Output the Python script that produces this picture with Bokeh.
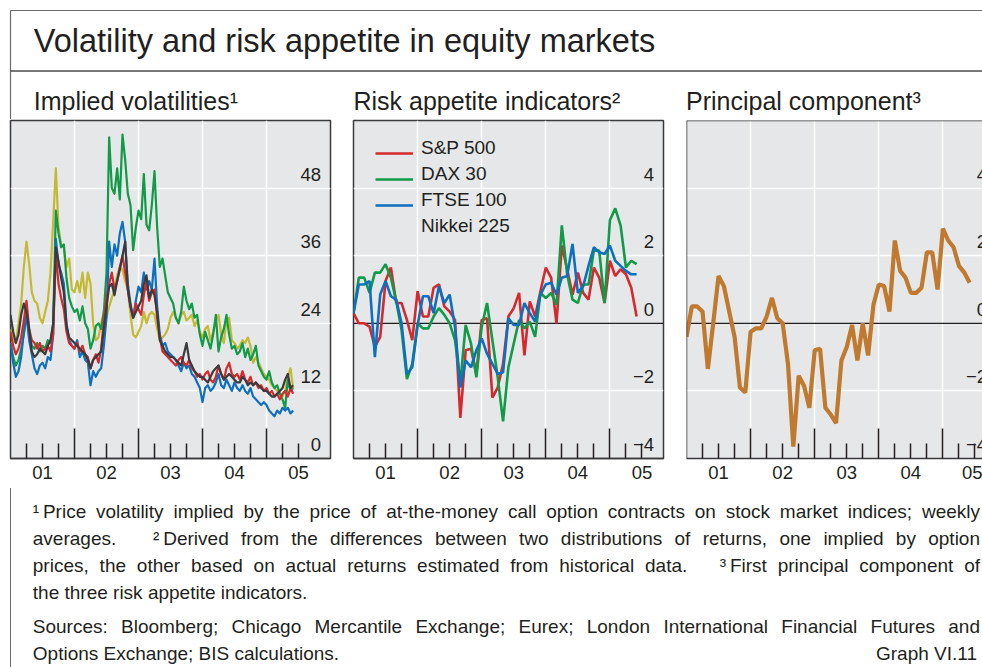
from bokeh.plotting import figure
from bokeh.models import (Range1d, FixedTicker, LinearAxis, Span, Label, LabelSet,
                          ColumnDataSource, Legend, LegendItem, Div)
from bokeh.core.properties import value
from bokeh.layouts import column, row
from bokeh.embed import file_html
from bokeh.resources import INLINE

# ---------------- data ----------------
year_bounds = [2002, 2003, 2004, 2005]
quarter_ticks = [2001.25, 2001.5, 2001.75, 2002.25, 2002.5, 2002.75, 2003.25, 2003.5, 2003.75,
                 2004.25, 2004.5, 2004.75, 2005.25, 2005.5]
year_mids = [2001.5, 2002.5, 2003.5, 2004.5, 2005.5]
year_labels = ["01", "02", "03", "04", "05"]

# implied volatilities, half-monthly observations from Jan 2001
vol_dates = [2001 + k / 24 for k in range(107)]
vol_nikkei = [23.0, 21.0, 20.5, 24.0, 27.5, 34.0, 38.5, 34.5, 29.5, 28.0,
              27.5, 25.0, 24.0, 26.0, 28.0, 33.0, 42.0, 51.5, 41.0, 38.0,
              37.5, 34.0, 35.5, 30.0, 29.5, 31.5, 29.5, 33.0, 28.5, 33.0,
              31.0, 24.0, 21.0, 21.5, 24.0, 26.0, 25.0, 27.0, 28.5, 30.0,
              32.5, 34.0, 33.5, 31.5, 30.0, 25.5, 22.0, 21.5, 22.5, 23.5,
              26.0, 24.0, 25.5, 26.0, 25.5, 23.0, 21.0, 21.5, 22.0, 23.0,
              25.0, 26.0, 25.0, 24.0, 25.5, 26.0, 24.5, 25.0, 25.5, 23.5,
              24.5, 22.5, 21.5, 23.0, 23.5, 21.0, 22.5, 24.5, 25.5, 22.0,
              20.5, 24.5, 25.0, 21.0, 20.5, 19.5, 20.0, 21.0, 20.5, 21.5,
              20.0, 17.0, 18.0, 17.0, 16.0, 15.0, 14.5, 14.0, 13.0, 12.5,
              12.0, 11.5, 11.0, 12.0, 14.5, 16.0, 12.5]
vol_dax = [20.5, 18.0, 16.5, 17.5, 19.5, 22.0, 25.5, 22.0, 20.0, 19.5,
           20.5, 19.0, 20.0, 19.5, 21.0, 20.5, 24.0, 44.0, 40.0, 37.5,
           38.0, 32.0, 28.5, 27.0, 26.0, 26.5, 24.5, 27.0, 24.0, 23.0,
           19.5, 21.0, 23.5, 24.0, 23.0, 26.0, 33.0, 57.0, 48.0, 47.0,
           51.5, 46.0, 57.5, 53.0, 47.0, 45.0, 37.0, 41.0, 44.0, 42.5,
           50.5, 41.5, 40.5, 45.0, 51.0, 41.0, 34.0, 35.5, 32.5, 29.5,
           28.5, 27.5, 25.0, 24.0, 26.0, 30.5, 28.0, 26.5, 27.5, 25.0,
           25.5, 22.0, 20.0, 22.5, 21.0, 19.5, 22.0, 25.5, 19.0, 21.5,
           23.0, 25.5, 22.0, 19.5, 20.0, 18.5, 19.0, 20.5, 18.0, 19.5,
           17.5, 18.5, 20.0, 16.5, 15.5, 14.5, 14.0, 15.5, 13.5, 12.5,
           13.0, 11.5, 10.5, 9.0, 14.0, 12.0, 12.5]
vol_ftse = [20.5, 17.0, 14.5, 15.5, 18.0, 22.5, 25.5, 21.0, 18.5, 16.0,
            15.0, 16.5, 17.0, 16.0, 18.0, 17.5, 22.0, 39.0, 34.5, 33.0,
            31.0, 24.0, 21.0, 20.0, 19.5, 21.0, 18.0, 19.0, 17.5, 17.0,
            13.0, 15.5, 14.5, 15.5, 16.0, 20.0, 25.0, 38.5, 34.0, 38.0,
            36.0, 40.0, 42.0, 38.5, 31.0, 27.5, 25.0, 28.0, 30.5, 29.5,
            33.0, 30.0, 31.5, 30.0, 35.5, 27.0, 22.0, 20.0, 20.5, 19.0,
            18.5, 18.0, 17.5, 16.5, 15.5, 17.0, 16.0, 16.5, 15.0, 14.5,
            13.5, 12.5, 10.0, 12.5, 13.0, 12.0, 12.5, 13.5, 15.0, 13.0,
            12.5, 14.0, 13.0, 12.0, 13.5, 12.5, 12.0, 13.0, 12.0, 11.5,
            12.5, 11.0, 10.5, 10.0, 9.5, 10.0, 9.5, 8.5, 8.0, 7.5,
            8.5, 8.0, 9.0, 8.5, 9.0, 8.0, 8.5]
vol_sp500 = [22.5, 20.0, 18.5, 19.5, 21.5, 24.5, 28.0, 23.0, 21.0, 20.5,
             19.5, 20.5, 19.0, 19.5, 20.0, 19.0, 22.0, 36.5, 31.0, 28.5,
             26.5, 22.5, 20.5, 20.0, 19.5, 20.5, 19.0, 20.0, 18.5, 18.0,
             16.0, 17.5, 18.5, 17.0, 19.5, 24.5, 28.5, 31.0, 33.0, 30.0,
             31.5, 34.0, 36.0, 33.0, 30.0, 27.0, 25.0, 27.5, 26.5, 25.5,
             29.0, 31.5, 28.0, 29.5, 30.0, 25.0, 21.5, 19.0, 18.5, 18.0,
             17.5, 17.0, 16.5, 17.5, 18.0, 17.0, 16.5, 17.5, 16.0, 15.5,
             14.5, 15.0, 14.0, 15.0, 15.5, 14.0, 13.5, 14.5, 16.5, 15.0,
             14.0, 16.0, 17.0, 15.0, 14.5, 15.0, 14.0, 15.5, 14.0, 13.5,
             14.5, 13.0, 13.5, 12.5, 13.0, 12.0, 12.5, 11.5, 12.0, 11.0,
             11.5, 10.5, 11.5, 12.0, 11.0, 12.5, 11.5]
vol_other = [25.5, 22.5, 20.5, 22.0, 25.5, 27.5, 26.0, 23.0, 19.0, 18.0,
             18.5, 19.5, 19.0, 18.5, 20.0, 21.0, 24.0, 37.5, 35.0, 32.0,
             29.5, 23.5, 21.5, 21.0, 20.5, 20.0, 19.5, 19.0, 18.5, 17.5,
             16.0, 17.5, 18.0, 18.5, 19.0, 23.0, 27.0, 30.5, 31.0, 29.0,
             31.5, 33.5, 36.0, 38.5, 30.0, 27.0, 25.0, 26.0, 27.0, 28.0,
             31.0, 32.5, 28.5, 30.0, 29.0, 26.0, 21.0, 20.0, 19.0, 18.5,
             18.0, 18.0, 17.5, 17.0, 16.5, 18.5, 20.5, 17.5, 16.5, 15.5,
             15.0, 14.5, 14.5, 14.0, 13.5, 14.5, 15.5, 16.0, 16.5, 15.0,
             14.0, 14.5, 15.0, 14.5, 14.0, 13.5, 13.5, 14.5, 14.0, 13.0,
             13.5, 13.0, 13.5, 13.0, 12.5, 12.0, 12.0, 11.5, 11.0, 11.0,
             11.5, 12.0, 12.5, 14.0, 15.0, 12.5, 13.0]

# risk appetite indicators and principal component, monthly from Jan 2001
ra_dates = [2001 + m / 12 for m in range(54)]
ra_sp500 = [0.3, 0.0, 0.0, -0.1, -0.7, -0.4, 1.25, 1.65, 0.6, 0.6,
            0.1, -0.5, 0.95, 0.2, 0.2, 1.05, 1.15, 0.5, 0.35, 0.1,
            -2.8, -0.8, -0.75, -1.5, 0.1, 0.15, -2.2, -1.9, -1.2, 0.2,
            0.45, 0.9, -0.95, 0.65, 0.2, 0.95, 1.65, 1.35, 0.0, 2.3,
            1.6, 0.85, 1.5, 0.9, 0.7, 1.65, 1.35, 0.6, 1.85, 1.4,
            1.6, 1.45, 1.05, 0.2]
ra_dax = [0.3, 1.35, 1.35, 0.9, 1.5, 1.5, 1.75, 1.35, 0.65, -0.2,
          -1.65, -1.2, 0.0, -0.15, -0.15, 0.2, 0.45, 0.25, 0.0, -0.5,
          -1.75, -0.05, -0.6, -1.6, -0.1, 0.6, -0.5, -1.6, -2.9, -1.3,
          -0.6, 0.1, -0.15, 0.05, -0.4, 0.9, 0.75, 0.9, 0.55, 2.9,
          1.45, 0.7, 0.6, 1.15, 1.15, 2.15, 2.15, 0.6, 3.05, 3.4,
          2.9, 1.65, 1.85, 1.75]
ra_ftse = [0.3, 1.15, 1.15, 1.25, -1.0, 0.85, 1.25, 0.8, 0.7, 0.0,
           -1.5, -1.3, -0.05, 0.8, 0.8, 0.3, 1.1, 0.6, 0.85, -0.1,
           -1.9, -1.1, -1.3, -0.8, -0.45, -0.9, -1.2, -1.5, -1.45, 0.15,
           -0.05, -0.05, 0.6, 0.3, 0.05, 0.85, 1.15, 1.2, 0.85, 1.35,
           1.4, 2.35, 0.9, 1.1, 1.7, 2.25, 2.1, 2.05, 2.3, 1.85,
           1.7, 1.55, 1.45, 1.45]
pc_first = [-0.4, 0.5, 0.5, 0.35, -1.35, 0.0, 1.4, 1.1, 0.35, -0.4,
            -1.9, -2.05, -0.25, -0.15, -0.15, 0.2, 0.75, 0.15, 0.0, -1.2,
            -3.65, -1.55, -1.85, -2.5, -0.8, -0.75, -2.5, -2.7, -2.95, -1.1,
            -0.7, -0.05, -1.1, 0.0, -0.95, 0.55, 1.15, 1.1, 0.35, 2.45,
            1.55, 1.35, 0.9, 0.9, 1.05, 2.1, 2.1, 1.0, 2.8, 2.45,
            2.25, 1.7, 1.5, 1.2]

series_names = ["S&P 500", "DAX 30", "FTSE 100", "Nikkei 225"]
vol_ticks = [0, 12, 24, 36, 48]
vol_tick_text = ["0", "12", "24", "36", "48"]
ra_ticks = [-4, -2, 0, 2, 4]
ra_tick_text = ["\u22124", "\u22122", "0", "2", "4"]

# ---------------- style ----------------
FONT = "Liberation Sans"
INK = "#231f20"
BG = "#e6e7e8"
FRAME = "#3a3a3a"
BOX = "#6b6b6b"
RED = "#d42a2f"
GREEN = "#119a48"
BLUE = "#0d6fbe"
YELLOW = "#c5b934"
BLACK = "#3b3b3d"
ORANGE = "#c07a30"

PX_PER_YEAR = 64.1


def make_panel(x_end, y0, y1, fw, left, right, gridy, tick_vals, tick_txt, label_x, outline=True):
    p = figure(frame_width=fw, frame_height=338, x_range=Range1d(2001, x_end),
               y_range=Range1d(y0, y1), output_backend="svg", toolbar_location=None,
               y_axis_location=None, min_border_left=left, min_border_right=right,
               min_border_top=1, min_border_bottom=30)
    p.background_fill_color = BG
    p.border_fill_color = "white"
    p.outline_line_color = FRAME if outline else None
    p.outline_line_width = 1.5

    ax = p.xaxis[0]
    ax.ticker = FixedTicker(ticks=year_bounds, minor_ticks=quarter_ticks)
    ax.major_tick_in = 30
    ax.major_tick_out = 0
    ax.minor_tick_in = 15
    ax.minor_tick_out = 0
    ax.major_tick_line_color = INK
    ax.major_tick_line_width = 1.5
    ax.minor_tick_line_color = INK
    ax.minor_tick_line_width = 1.5
    ax.axis_line_color = FRAME
    ax.axis_line_width = 1.5
    ax.major_label_overrides = {t: "" for t in year_bounds}
    ax.major_label_text_font_size = "1px"
    ax.major_label_standoff = 0

    lab = LinearAxis(ticker=FixedTicker(ticks=year_mids),
                     major_label_overrides=dict(zip(year_mids, year_labels)),
                     major_tick_in=0, major_tick_out=0, minor_tick_in=0, minor_tick_out=0,
                     axis_line_color=None, major_label_standoff=7,
                     major_label_text_font=FONT, major_label_text_font_size="18.5px",
                     major_label_text_color=INK)
    p.add_layout(lab, "below")

    p.xgrid.ticker = FixedTicker(ticks=year_bounds)
    p.xgrid.grid_line_color = "white"
    p.xgrid.grid_line_width = 1.5
    p.ygrid.ticker = FixedTicker(ticks=gridy)
    p.ygrid.grid_line_color = "white"
    p.ygrid.grid_line_width = 1.5

    src = ColumnDataSource(dict(x=[label_x] * len(tick_vals), y=tick_vals, text=tick_txt))
    p.add_layout(LabelSet(x="x", y="y", text="text", source=src, x_offset=-9.5, y_offset=7.5,
                          text_align="right", text_baseline="alphabetic", text_font=value(FONT),
                          text_font_size=value("18.5px"), text_color=INK))
    return p


# ---------------- header ----------------
HDR_H = 119
hdr = figure(width=982, height=HDR_H, x_range=Range1d(0, 982), y_range=Range1d(HDR_H, 0),
             output_backend="svg", toolbar_location=None, min_border=0,
             x_axis_location=None, y_axis_location=None, outline_line_color=None)
hdr.grid.visible = False
hdr.segment(x0=[10, 10, 10], y0=[10, 10, 70.5], x1=[982, 10, 982], y1=[10, HDR_H, 70.5],
            line_color=[BOX, BOX, "#4a4a4a"], line_width=[1.2, 1.2, 1.6])
hdr.add_layout(Label(x=33.3, y=40.6, text="Volatility and risk appetite in equity markets",
                     text_font=FONT, text_font_size="32.5px", text_color=INK,
                     text_baseline="middle"))
for sx, st in [(33.3, "Implied volatilities\u00b9"), (353, "Risk appetite indicators\u00b2"),
               (685.5, "Principal component\u00b3")]:
    hdr.add_layout(Label(x=sx, y=100.6, text=st, text_font=FONT, text_font_size="25px",
                         text_color=INK, text_baseline="middle"))

# ---------------- panel 1 ----------------
p1 = make_panel(2006, 0, 60, 320, 10, 11, [12, 24, 36, 48], vol_ticks, vol_tick_text, 2006)
for vals, col in [(vol_nikkei, YELLOW), (vol_dax, GREEN), (vol_ftse, BLUE),
                  (vol_sp500, RED), (vol_other, BLACK)]:
    p1.line(vol_dates, vals, line_color=col, line_width=2.2, line_join="round")

# ---------------- panel 2 ----------------
x2_end = 2001 + 310 / PX_PER_YEAR
p2 = make_panel(x2_end, -4, 6, 310, 12, 11, [-2, 2, 4], ra_ticks, ra_tick_text, x2_end)
p2.add_layout(Span(location=0, dimension="width", line_color=INK, line_width=1.3, level="underlay"))
r_sp = p2.line(ra_dates, ra_sp500, line_color=RED, line_width=2.6)
r_dax = p2.line(ra_dates, ra_dax, line_color=GREEN, line_width=2.6)
r_ftse = p2.line(ra_dates, ra_ftse, line_color=BLUE, line_width=2.6)
r_nik = p2.line([], [], line_color=YELLOW, line_width=2.6)
leg_renderers = [r_sp, r_dax, r_ftse, r_nik]
common = dict(orientation="vertical", glyph_height=26, label_height=26, spacing=0, padding=0,
              margin=0, background_fill_alpha=0, border_line_alpha=0, label_text_font=FONT,
              label_text_font_size="19px", label_text_color=INK)
# legend keys (line samples only)
leg_keys = Legend(items=[LegendItem(label=" ", renderers=[r]) for r in leg_renderers],
                  location=(22, 214.5), glyph_width=38, label_standoff=0, label_width=0, **common)
# legend labels (text sits slightly above the line samples)
leg_text = Legend(items=[LegendItem(label=n, renderers=[r]) for n, r in zip(series_names, leg_renderers)],
                  location=(68, 219.5), glyph_width=0, label_standoff=0, **common)
p2.add_layout(leg_keys)
p2.add_layout(leg_text)

# ---------------- panel 3 ----------------
x3_end = 2001 + 296 / PX_PER_YEAR
p3 = make_panel(x3_end, -4, 6, 296, 12, 0, [-2, 2, 4], ra_ticks, ra_tick_text,
                2001 + 310 / PX_PER_YEAR, outline=False)
p3.add_layout(Span(location=0, dimension="width", line_color=INK, line_width=1.3, level="underlay"))
p3.add_layout(Span(location=6, dimension="width", line_color=FRAME, line_width=1.5))
p3.add_layout(Span(location=2001, dimension="height", line_color=FRAME, line_width=1.5))
p3.line(ra_dates, pc_first, line_color=ORANGE, line_width=4.2)

# ---------------- footer ----------------
FOOT_H = 179
jl = "text-align:justify;text-align-last:justify;"
foot_html = (
    "<div style=\"margin-left:10px;width:972px;border-left:1.2px solid " + BOX + ";height:" + str(FOOT_H) + "px;"
    "box-sizing:border-box;padding:10.2px 2px 0 21.8px;font-family:'Liberation Sans',Arial,sans-serif;"
    "font-size:19px;line-height:27px;color:" + INK + ";text-align:left;\">"
    "<div style=\"" + jl + "\">\u00b9\u2009Price volatility implied by the price of at-the-money call option "
    "contracts on stock market indices; weekly</div>"
    "<div style=\"" + jl + "\">averages.&nbsp;&nbsp; \u00b2\u2009Derived from the differences between two "
    "distributions of returns, one implied by option</div>"
    "<div style=\"" + jl + "\">prices, the other based on actual returns estimated from historical "
    "data.&nbsp;&nbsp; \u00b3\u2009First principal component of</div>"
    "<div>the three risk appetite indicators.</div>"
    "<div style=\"margin-top:7px;" + jl + "\">Sources: Bloomberg; Chicago Mercantile Exchange; Eurex; "
    "London International Financial Futures and</div>"
    "<div style=\"display:flex;justify-content:space-between;padding-right:3px;\"><span>Options Exchange; BIS "
    "calculations.</span><span>Graph VI.11</span></div>"
    "</div>"
)
footer = Div(text=foot_html, width=982, height=FOOT_H, margin=0)

layout = column(hdr, row(p1, p2, p3, spacing=0), footer, spacing=0)
open("out.html", "w").write(file_html(layout, INLINE))
